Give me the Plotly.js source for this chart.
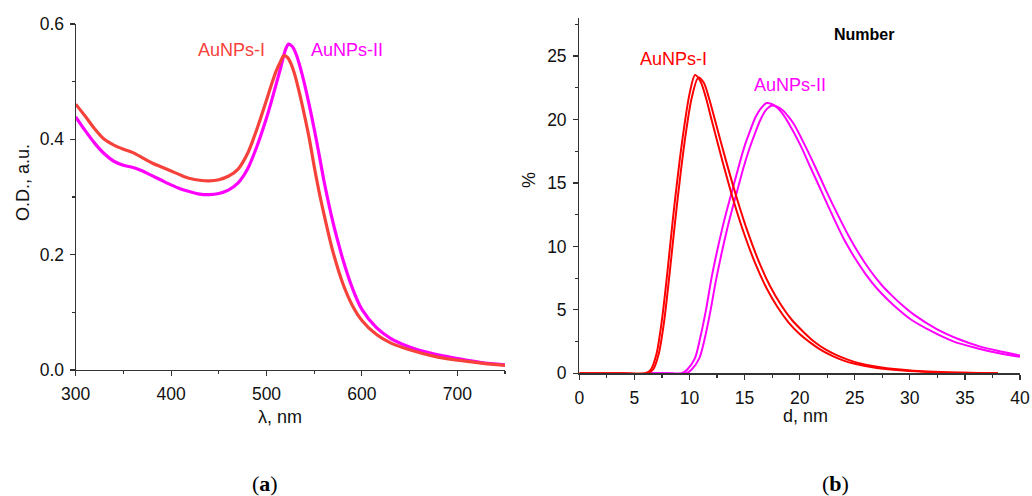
<!DOCTYPE html>
<html><head><meta charset="utf-8">
<script src="https://cdn.plot.ly/plotly-3.0.1.min.js"></script>
<style>html,body{margin:0;padding:0;background:#fff;}#chart{width:1032px;height:496px;}</style>
</head><body><div id="chart"></div>
<script>
// (a) UV-vis absorbance spectra
const wlI  = [300,310,320,330,340,350,360,370,380,390,400,410,420,430,440,450,460,470,480,490,500,505,510,515,518,522,526,530,535,540,545,550,555,560,565,570,580,590,600,615,630,650,675,700,725,750];
const odI  = [0.461,0.440,0.418,0.400,0.390,0.383,0.377,0.368,0.359,0.352,0.345,0.338,0.332,0.329,0.328,0.330,0.336,0.348,0.375,0.418,0.468,0.494,0.518,0.536,0.545,0.542,0.530,0.510,0.477,0.440,0.400,0.353,0.310,0.272,0.236,0.203,0.150,0.112,0.086,0.062,0.047,0.035,0.024,0.017,0.012,0.008];
const wlII = [300,310,320,330,340,350,360,370,380,390,400,410,420,430,440,450,460,470,480,490,500,505,510,515,519,521,523,527,531,535,540,545,550,555,560,565,570,575,580,590,600,615,630,650,675,700,725,750];
const odII = [0.439,0.415,0.393,0.375,0.362,0.355,0.351,0.345,0.337,0.329,0.321,0.314,0.309,0.305,0.304,0.306,0.312,0.324,0.348,0.388,0.437,0.465,0.495,0.525,0.551,0.560,0.565,0.561,0.548,0.527,0.495,0.458,0.418,0.375,0.330,0.290,0.254,0.222,0.192,0.142,0.105,0.074,0.055,0.040,0.028,0.020,0.013,0.009];

// (b) number size distributions (two measurements each)
const dI1  = [0,2,4,6.0,6.5,7,7.5,8,8.5,9,9.5,10,10.5,11,11.5,12,13,14,15,16,17,18,19,20,21,22,23,24,25,27,30,33,36,38];
const pI1  = [0,0,0,0,0.3,1.5,4.2,8.0,12.2,16.0,19.3,22.0,23.5,23.0,21.7,20.0,16.7,13.6,10.9,8.6,6.7,5.2,4.0,3.1,2.4,1.8,1.35,1.0,0.75,0.42,0.18,0.07,0.02,0];
const dI2  = [0,2,4,6.2,6.7,7.2,7.7,8.2,8.7,9.2,9.7,10.2,10.8,11.3,11.8,12.3,13.3,14.3,15.3,16.3,17.3,18.3,19.3,20.3,21.3,22.3,23.3,24.3,25.3,27.3,30.3,33.3,36.3,38];
const pI2  = [0,0,0,0,0.3,1.5,4.1,7.9,12.0,15.8,19.1,21.7,23.3,22.9,21.6,20.0,16.8,13.8,11.1,8.8,6.9,5.4,4.2,3.3,2.5,1.9,1.45,1.1,0.82,0.47,0.2,0.08,0.02,0];
const dII1 = [6,8,9.3,9.8,10.5,11,11.5,12,12.5,13,13.5,14,14.5,15,15.5,16,16.5,17,17.5,18,18.5,19,20,21,22,23,24,25,26,27,28,29,30,32,34,36,38,40];
const pII1 = [0,0,0,0.3,1.2,2.9,5.0,7.5,9.6,11.5,13.2,14.8,16.4,17.9,19.1,20.2,20.9,21.3,21.2,20.9,20.4,19.7,18.1,16.2,14.3,12.4,10.6,9.1,7.8,6.7,5.8,5.0,4.3,3.3,2.5,2.0,1.6,1.3];
const dII2 = [6,8,9.7,10.2,10.9,11.4,11.9,12.4,12.9,13.4,13.9,14.4,14.9,15.4,15.9,16.4,16.9,17.5,18,18.5,19,19.5,20.4,21.4,22.4,23.4,24.4,25.4,26.4,27.4,28.4,29.4,30.4,32.4,34.4,36.4,38.4,40];
const pII2 = [0,0,0,0.3,1.2,2.8,4.9,7.3,9.4,11.3,13.0,14.6,16.2,17.6,18.8,19.9,20.7,21.1,21.0,20.7,20.2,19.6,18.1,16.3,14.4,12.6,10.9,9.4,8.1,7.0,6.1,5.3,4.6,3.5,2.7,2.1,1.7,1.4];

const W = 1032, H = 496;
const px = x => x / W, py = y => 1 - y / H;
const FONT = 'Liberation Sans, Arial, sans-serif';
const RED_A = '#f7423c', MAG = '#ff00ff', RED_B = '#ff0000';

const traces = [
  {x: wlII, y: odII, xaxis:'x', yaxis:'y', mode:'lines', line:{color:MAG, width:3.2, shape:'spline', smoothing:0.8}},
  {x: wlI,  y: odI,  xaxis:'x', yaxis:'y', mode:'lines', line:{color:RED_A, width:3.2, shape:'spline', smoothing:0.8}},
  {x: dII1, y: pII1, xaxis:'x2', yaxis:'y2', mode:'lines', line:{color:MAG, width:2, shape:'spline', smoothing:0.8}},
  {x: dII2, y: pII2, xaxis:'x2', yaxis:'y2', mode:'lines', line:{color:MAG, width:2, shape:'spline', smoothing:0.8}},
  {x: dI1,  y: pI1,  xaxis:'x2', yaxis:'y2', mode:'lines', line:{color:RED_B, width:2, shape:'spline', smoothing:0.8}},
  {x: dI2,  y: pI2,  xaxis:'x2', yaxis:'y2', mode:'lines', line:{color:RED_B, width:2, shape:'spline', smoothing:0.8}}
];

const axBase = {
  showline:true, linecolor:'#333', linewidth:1.2, ticks:'outside', ticklen:5, tickwidth:1.2, tickcolor:'#333',
  showgrid:false, zeroline:false, tickfont:{family:FONT, size:17.5, color:'#111'}, fixedrange:true
};

const layout = {
  width: W, height: H, margin:{l:0,r:0,t:0,b:0}, paper_bgcolor:'#fff', plot_bgcolor:'#fff',
  showlegend:false,
  xaxis: Object.assign({}, axBase, {domain:[px(75.7), px(505)], range:[300,750], dtick:100, tick0:300,
    ticklabelstandoff:3, minor:{ticks:'outside', ticklen:3, dtick:50, tickcolor:'#333'}, anchor:'y'}),
  yaxis: Object.assign({}, axBase, {domain:[py(370), py(24)], range:[0,0.6], dtick:0.2, tickformat:'.1f',
    ticklabelstandoff:2, minor:{ticks:'outside', ticklen:3, dtick:0.1, tickcolor:'#333'}, anchor:'x'}),
  xaxis2: Object.assign({}, axBase, {domain:[px(579.3), px(1020)], range:[0,40], dtick:5,
    ticklabelstandoff:3, minor:{ticks:'outside', ticklen:3, dtick:2.5, tickcolor:'#333'}, anchor:'y2'}),
  yaxis2: Object.assign({}, axBase, {domain:[py(373.3), py(18)], range:[0,28], tickvals:[0,5,10,15,20,25],
    ticklabelstandoff:3, minor:{ticks:'outside', ticklen:3, dtick:2.5, tickcolor:'#333'}, anchor:'x2'}),
  annotations: [
    ['AuNPs-I', 231, 50, 18, RED_A, FONT, 0],
    ['AuNPs-II', 347, 50, 18, MAG, FONT, 0],
    ['AuNPs-I', 673, 59, 18, RED_B, FONT, 0],
    ['AuNPs-II', 790, 85, 18, MAG, FONT, 0],
    ['<b>Number</b>', 864, 34, 16, '#000', FONT, 0],
    ['O.D., a.u.', 23, 183, 18, '#111', FONT, -90],
    ['λ, nm', 280, 417, 18, '#111', FONT, 0],
    ['%', 529, 180, 18, '#111', FONT, -90],
    ['d, nm', 805, 416, 18, '#111', FONT, 0],
    ['(<b>a</b>)', 265, 483, 22, '#000', 'Liberation Serif, DejaVu Serif, serif', 0],
    ['(<b>b</b>)', 835, 483, 22, '#000', 'Liberation Serif, DejaVu Serif, serif', 0]
  ].map(([t, x, y, s, c, f, a]) => ({xref:'paper', yref:'paper', x:px(x), y:py(y), xanchor:'center', yanchor:'middle',
      text:t, textangle:a, showarrow:false, font:{family:f, size:s, color:c}}))
};

Plotly.newPlot('chart', traces, layout, {displayModeBar:false, staticPlot:true});
</script></body></html>
